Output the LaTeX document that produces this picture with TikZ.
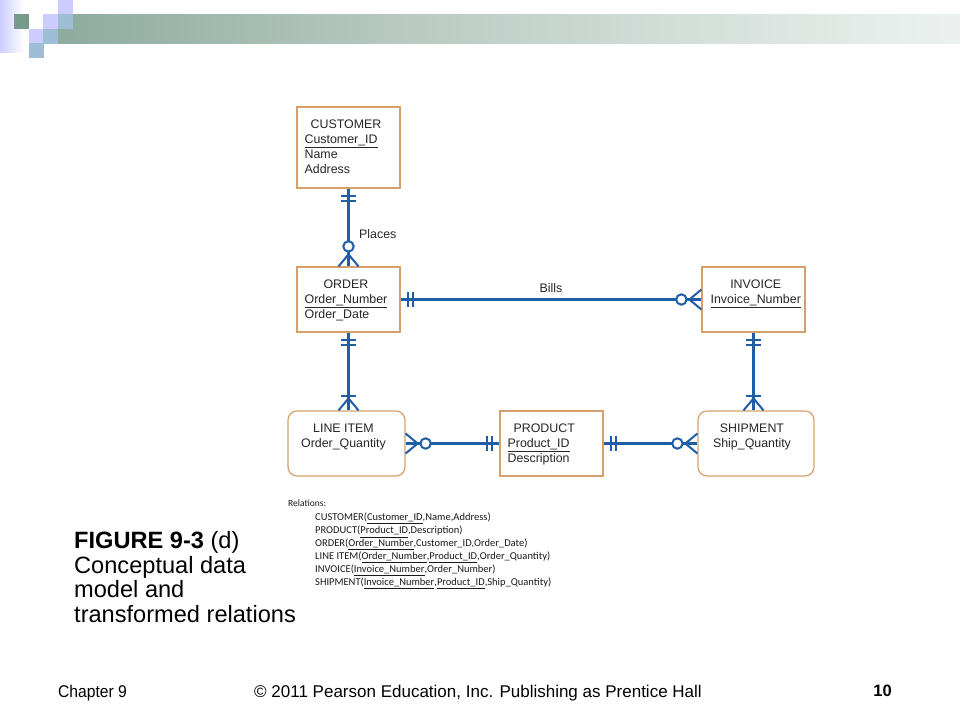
\documentclass[tikz,border=0pt]{standalone}
\usepackage{fontspec}
\setmainfont{Liberation Sans}
\newfontfamily\relfont{Carlito}
\newfontfamily\footfont[FakeStretch=0.92]{Liberation Sans}
\usetikzlibrary{positioning}
\usetikzlibrary{decorations.markings}
\definecolor{boxc}{RGB}{214,160,108}
\definecolor{erblue}{RGB}{30,94,166}
\definecolor{hdgreen}{RGB}{118,154,139}
\definecolor{hdquart}{RGB}{142,171,159}
\definecolor{hdmid}{RGB}{190,206,199}
\definecolor{hdlight}{RGB}{232,238,235}
\definecolor{lav}{RGB}{204,204,255}
\definecolor{ltblue}{RGB}{158,190,214}
\pgfdeclarehorizontalshading{barshade}{100bp}{color(0bp)=(hdgreen); color(25bp)=(hdquart); color(47bp)=(hdmid); color(72bp)=(hdlight); color(93bp)=(white); color(100bp)=(white)}

\begin{document}
\begin{tikzpicture}[x=1pt,y=-1pt,
    erline/.style={draw=erblue, line width=2.4pt},
    entity/.style={draw=boxc, line width=1.2pt, fill=white, inner sep=0pt, minimum width=103pt, minimum height=65pt},
    weak/.style={entity, rounded corners=9pt, minimum width=117pt}]
    \tikzset{etext/.style={inner sep=0pt, text=black!85, font=\fontsize{12.4}{15}\selectfont}}
    \tikzset{crossbar/.style={postaction={decorate, decoration={markings, mark=at position #1 with {\draw[erline, line width=2pt] (0pt,-7.5pt) -- (0pt,7.5pt);}}}},
    oring/.style={postaction={decorate, decoration={markings, mark=at position #1 with {\draw[erline, line width=2pt, fill=white] (0pt,0pt) circle (5.2pt);}}}},
    footend/.style={postaction={decorate, decoration={markings, mark=at position -12pt with {\draw[erline, line width=2pt] (12pt,10pt) -- (0pt,0pt) -- (12pt,-10pt);}}}},
    footstart/.style={postaction={decorate, decoration={markings, mark=at position 12pt with {\draw[erline, line width=2pt] (-12pt,10pt) -- (0pt,0pt) -- (-12pt,-10pt);}}}},
    one start/.style={crossbar=7pt, crossbar=12pt},
    one end/.style={crossbar=-7pt, crossbar=-12pt},
    zero many end/.style={footend, oring=-20pt},
    zero many start/.style={footstart, oring=20pt},
    one many end/.style={footend, crossbar=-14pt}}
    \useasboundingbox (0,0) rectangle (960,720);

    % title bar
    \shade[left color=lav, right color=white] (0,0) rectangle (24,52);
    \shade[shading=barshade] (58,14) rectangle (960,43);
    \foreach \sx/\sy/\sc in {14/14/hdgreen, 43/14/lav, 58/0/lav, 58/14/ltblue, 29/29/lav, 43/29/ltblue, 29/43/ltblue}
        \fill[\sc] (\sx,\sy) rectangle ++(14.5,14.5);

    % entities
    \node[entity, minimum height=81pt] (customer) at (348.5,147.5) {};
    \node[entity] (order) at (348.5,299.5) {};
    \node[entity] (invoice) at (753.5,299.5) {};
    \node[weak] (lineitem) at (346.5,443.5) {};
    \node[entity] (product) at (551.5,443.5) {};
    \node[weak, minimum width=116pt] (shipment) at (756,443.5) {};

    \node[etext, anchor=north west, below right=11pt and 8pt of customer.north west] (customer-text)
        {\begin{tabular}{@{}l@{}}\multicolumn{1}{c}{CUSTOMER}\\ \underline{Customer\_ID}\\ Name\\ Address\end{tabular}};
    \node[etext, anchor=north west, below right=11pt and 8pt of order.north west] (order-text)
        {\begin{tabular}{@{}l@{}}\multicolumn{1}{c}{ORDER}\\ \underline{Order\_Number}\\ Order\_Date\end{tabular}};
    \node[etext, anchor=north west, below right=11pt and 9pt of invoice.north west] (invoice-text)
        {\begin{tabular}{@{}l@{}}\multicolumn{1}{c}{INVOICE}\\ \underline{Invoice\_Number}\end{tabular}};
    \node[etext, anchor=north west, below right=11pt and 8pt of product.north west] (product-text)
        {\begin{tabular}{@{}l@{}}\multicolumn{1}{c}{PRODUCT}\\ \underline{Product\_ID}\\ Description\end{tabular}};
    \node[etext, below=11pt of lineitem.north, xshift=-3pt] (lineitem-text)
        {\begin{tabular}{@{}c@{}}LINE ITEM\\ Order\_Quantity\end{tabular}};
    \node[etext, below=11pt of shipment.north, xshift=-4pt] (shipment-text)
        {\begin{tabular}{@{}c@{}}SHIPMENT\\ Ship\_Quantity\end{tabular}};

    % relationships
    \draw[erline, one start, zero many end] (customer.south) -- (order.north);
    \draw[erline, one start, zero many end] (order.east) -- (invoice.west);
    \draw[erline, one start, one many end] (order.south) -- (order.south |- lineitem.north);
    \draw[erline, one start, one many end] (invoice.south) -- (invoice.south |- shipment.north);
    \draw[erline, zero many start, one end] (lineitem.east) -- (product.west);
    \draw[erline, one start, zero many end] (product.east) -- (shipment.west);

    \node[etext, anchor=west] (places) at (359,234) {Places};
    \node[etext] (bills) at (551,288) {Bills};

    % relations
    \node[inner sep=0pt, anchor=north west, text=black!90, font=\relfont\fontsize{9.5}{12}\selectfont] (relhead) at (288,500) {Relations:};
    \node[inner sep=0pt, anchor=north west, align=left, text=black!90, font=\relfont\fontsize{10.5}{13}\selectfont] (rellist) at (315,513)
        {CUSTOMER(\underline{Customer\_ID},Name,Address)\\
         PRODUCT(\underline{Product\_ID},Description)\\
         ORDER(\underline{Order\_Number},Customer\_ID,Order\_Date)\\
         LINE ITEM(\underline{Order\_Number},\underline{Product\_ID},Order\_Quantity)\\
         INVOICE(\underline{Invoice\_Number},Order\_Number)\\
         SHIPMENT(\underline{Invoice\_Number},\underline{Product\_ID},Ship\_Quantity)};

    % caption and footer
    \node[inner sep=0pt, anchor=north west, align=left, font=\fontsize{23.6}{24.7}\selectfont] (caption) at (74,531)
        {\textbf{FIGURE 9-3} (d)\\ Conceptual data\\ model and\\ transformed relations};
    \node[inner sep=0pt, anchor=base west, font=\footfont\fontsize{17}{17}\selectfont] (chapter) at (58,697) {Chapter 9};
    \node[inner sep=0pt, anchor=base, font=\fontsize{17}{17}\selectfont] (copyright) at (478,697) {© 2011 Pearson Education, Inc. Publishing as Prentice Hall};
    \node[inner sep=0pt, anchor=base east, font=\bfseries\fontsize{16.5}{16.5}\selectfont] (pageno) at (892,696) {10};
\end{tikzpicture}
\end{document}
